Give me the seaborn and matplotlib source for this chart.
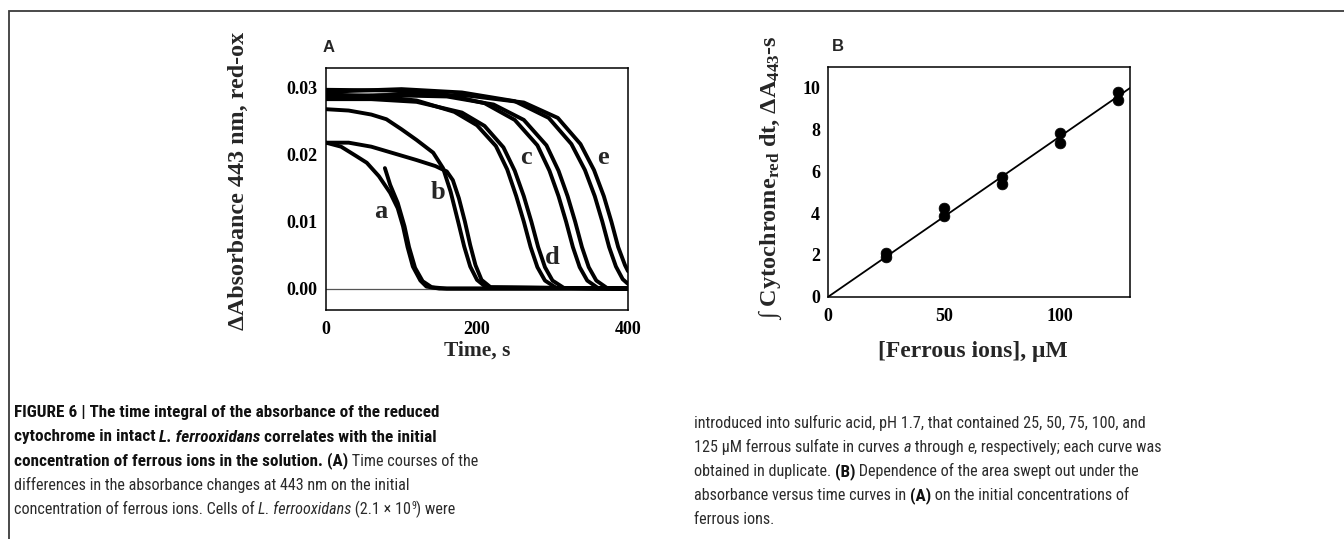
import matplotlib
matplotlib.use("Agg")
import pandas as pd
import seaborn as sns
import matplotlib.pyplot as plt
from matplotlib import font_manager
from matplotlib.patches import Rectangle

# ---------------- Panel A data: absorbance time courses ----
a1_t = [0, 20, 40, 54, 70, 85, 95, 102, 108, 115, 125, 133, 150, 400]
a1_v = [0.0218, 0.0212, 0.0198, 0.0188, 0.0168, 0.0143, 0.0120, 0.0093, 0.0062, 0.0033, 0.0012, 0.0003, 0.0, 0.0]
a2_t = [78, 85, 95, 104, 110, 118, 128, 140, 160, 400]
a2_v = [0.0180, 0.0155, 0.0128, 0.0093, 0.0062, 0.0031, 0.0011, 0.0002, 0.0, 0.0]
b1_t = [0, 30, 60, 90, 120, 145, 160, 168, 176, 184, 191, 198, 206, 218, 400]
b1_v = [0.0218, 0.0218, 0.0212, 0.0202, 0.0192, 0.0183, 0.0175, 0.0162, 0.0135, 0.0100, 0.0065, 0.0035, 0.0013, 0.0002, 0.0]
b2_t = [0, 30, 60, 80, 100, 120, 142, 155, 165, 175, 183, 191, 200, 212, 400]
b2_v = [0.0268, 0.0266, 0.0260, 0.0253, 0.0238, 0.0222, 0.0203, 0.0180, 0.0145, 0.0100, 0.0063, 0.0033, 0.0013, 0.0002, 0.0]
c1_t = [0, 60, 120, 170, 200, 225, 240, 252, 262, 271, 280, 290, 305, 400]
c1_v = [0.0290, 0.0288, 0.0281, 0.0264, 0.0244, 0.0213, 0.0178, 0.0138, 0.0100, 0.0062, 0.0032, 0.0012, 0.0001, 0.0]
c2_t = [0, 60, 120, 180, 210, 235, 250, 262, 272, 281, 290, 300, 315, 400]
c2_v = [0.0283, 0.0283, 0.0279, 0.0263, 0.0243, 0.0211, 0.0176, 0.0138, 0.0100, 0.0062, 0.0032, 0.0012, 0.0001, 0.0]
d1_t = [0, 80, 150, 210, 250, 280, 296, 308, 318, 327, 336, 346, 360, 400]
d1_v = [0.0297, 0.0296, 0.0292, 0.0277, 0.0252, 0.0214, 0.0176, 0.0138, 0.0100, 0.0062, 0.0032, 0.0012, 0.0001, 0.0]
d2_t = [0, 80, 160, 222, 262, 292, 308, 320, 330, 339, 348, 358, 372, 400]
d2_v = [0.0287, 0.0289, 0.0287, 0.0275, 0.0252, 0.0214, 0.0176, 0.0138, 0.0100, 0.0062, 0.0032, 0.0012, 0.0001, 0.0]
e1_t = [0, 100, 180, 250, 295, 325, 343, 356, 366, 375, 384, 393, 400]
e1_v = [0.0294, 0.0298, 0.0293, 0.0280, 0.0255, 0.0216, 0.0177, 0.0138, 0.0100, 0.0062, 0.0033, 0.0014, 0.0007]
e2_t = [0, 100, 190, 262, 307, 337, 355, 368, 378, 387, 396, 400]
e2_v = [0.0285, 0.0290, 0.0288, 0.0278, 0.0255, 0.0216, 0.0177, 0.0138, 0.0100, 0.0062, 0.0035, 0.0026]

curve_labels = ["a", "b", "c", "d", "e"]
label_t = [72, 148, 265, 300, 367]
label_v = [0.0115, 0.0143, 0.0196, 0.0046, 0.0196]

a_xticks = [0, 200, 400]
a_yticks = [0.00, 0.01, 0.02, 0.03]

# ---------------- Panel B data: integrated area vs ferrous ion concentration ----
conc = [25, 25, 50, 50, 75, 75, 100, 100, 125, 125]
area = [2.10, 1.92, 4.22, 3.85, 5.72, 5.40, 7.82, 7.35, 9.80, 9.40]
fit_x = [0, 130]
fit_y = [0.0, 9.98]
b_xticks = [0, 50, 100]
b_yticks = [0, 2, 4, 6, 8, 10]

# ---------------- caption text -----------------------------------------------
cap_left = [
    [("FIGURE 6 | The time integral of the absorbance of the reduced", "bold", "normal")],
    [("cytochrome in intact ", "bold", "normal"), ("L. ferrooxidans", "bold", "italic"),
     (" correlates with the initial", "bold", "normal")],
    [("concentration of ferrous ions in the solution. ", "bold", "normal"), ("(A)", "bold", "normal"),
     (" Time courses of the", "normal", "normal")],
    [("differences in the absorbance changes at 443 nm on the initial", "normal", "normal")],
    [("concentration of ferrous ions. Cells of ", "normal", "normal"), ("L. ferrooxidans", "normal", "italic"),
     (" (2.1 \u00d7 10", "normal", "normal"), ("9", "sup", "normal"), (") were", "normal", "normal")],
]
cap_right = [
    [("introduced into sulfuric acid, pH 1.7, that contained 25, 50, 75, 100, and", "normal", "normal")],
    [("125 \u03bcM ferrous sulfate in curves ", "normal", "normal"), ("a", "normal", "italic"),
     (" through ", "normal", "normal"), ("e", "normal", "italic"),
     (", respectively; each curve was", "normal", "normal")],
    [("obtained in duplicate. ", "normal", "normal"), ("(B)", "bold", "normal"),
     (" Dependence of the area swept out under the", "normal", "normal")],
    [("absorbance versus time curves in ", "normal", "normal"), ("(A)", "bold", "normal"),
     (" on the initial concentrations of", "normal", "normal")],
    [("ferrous ions.", "normal", "normal")],
]

# ---------------- style ------------------------------------------------------
sns.set_theme(style="white")
plt.rcParams.update({
    "font.family": ["Liberation Serif", "DejaVu Serif"],
    "mathtext.fontset": "custom",
    "mathtext.rm": "Liberation Serif:bold",
    "mathtext.bf": "Liberation Serif:bold",
    "mathtext.it": "Liberation Serif:italic:bold",
    "axes.edgecolor": "black",
    "axes.linewidth": 1.1,
})
SERIF = ["Liberation Serif", "DejaVu Serif"]
TICK_FS = 13

W, H = 1344, 539
fig = plt.figure(figsize=(W / 100, H / 100), dpi=100)
fig.patch.set_facecolor("white")

# outer frame (top and left edges visible; the rest lies outside the image)
fig.add_artist(Rectangle((9 / W, -0.2), 1.2, 1.2 - 11 / H, transform=fig.transFigure,
                         fill=False, ec="#3a3a3a", lw=1.3))

axA = fig.add_axes([326 / W, 1 - 310 / H, 302 / W, 242.3 / H])
axB = fig.add_axes([828.3 / W, 1 - 296.7 / H, 301.7 / W, 230 / H])

# ---------------- Panel A ----------------------------------------------------
traces = [("a1", a1_t, a1_v), ("a2", a2_t, a2_v), ("b1", b1_t, b1_v), ("b2", b2_t, b2_v),
          ("c1", c1_t, c1_v), ("c2", c2_t, c2_v), ("d1", d1_t, d1_v), ("d2", d2_t, d2_v),
          ("e1", e1_t, e1_v), ("e2", e2_t, e2_v)]
rows = []
for name, ts, vs in traces:
    for i, (t, v) in enumerate(zip(ts, vs)):
        rows.append({"trace": name, "order": i, "time": t, "absorbance": v})
dfA = pd.DataFrame(rows)
axA.axhline(0, color="#555555", lw=0.9, zorder=0)
sns.lineplot(data=dfA, x="time", y="absorbance", units="trace", estimator=None, sort=False,
             color="black", linewidth=2.8, ax=axA, legend=False)
axA.set_xlim(0, 400)
axA.set_ylim(-0.0032, 0.0330)
axA.set_xticks(a_xticks)
axA.set_yticks(a_yticks)
axA.set_xticklabels([str(x) for x in a_xticks])
axA.set_yticklabels([f"{y:.2f}" for y in a_yticks])
for lab, t, v in zip(curve_labels, label_t, label_v):
    axA.text(t, v, lab, fontsize=19, fontweight="bold", family=SERIF, ha="center", va="center")
axA.set_xlabel("Time, s", fontsize=15.5, fontweight="bold", family=SERIF)
axA.set_ylabel("\u0394Absorbance 443 nm, red-ox", fontsize=17.3, fontweight="bold", family=SERIF)
axA.xaxis.set_label_coords(0.5, (310 - 351) / 242.3)
axA.xaxis.label.set_va("center")
axA.yaxis.set_label_coords((238 - 326) / 302, (310 - 181) / 242.3)
axA.yaxis.label.set_va("center")
axA.text(-0.012, (310 - 47.5) / 242.3, "A", transform=axA.transAxes, fontsize=12,
         fontweight="bold", family=["Liberation Sans", "DejaVu Sans"], ha="left", va="center")

# ---------------- Panel B ----------------------------------------------------
dfB = pd.DataFrame({"conc": conc, "area": area})
dfFit = pd.DataFrame({"x": fit_x, "y": fit_y})
sns.lineplot(data=dfFit, x="x", y="y", color="black", linewidth=1.3, ax=axB, legend=False)
sns.scatterplot(data=dfB, x="conc", y="area", color="black", s=60, edgecolor="black",
                linewidth=0.5, ax=axB, legend=False, zorder=3)
axB.set_xlim(0, 130)
axB.set_ylim(0, 11)
axB.set_xticks(b_xticks)
axB.set_yticks(b_yticks)
axB.set_xticklabels([str(x) for x in b_xticks])
axB.set_yticklabels([str(y) for y in b_yticks])
axB.set_xlabel("[Ferrous ions], \u03bcM", fontsize=17, fontweight="bold", family=SERIF)
axB.set_ylabel("\u222b Cytochrome$_{\\mathrm{red}}$ dt, \u0394A$_{\\mathrm{443}}$-s",
               fontsize=17.5, fontweight="bold", family=SERIF)
axB.xaxis.set_label_coords((973 - 828.3) / 301.7, (296.7 - 352) / 230)
axB.xaxis.label.set_va("center")
axB.yaxis.set_label_coords((770 - 828.3) / 301.7, (296.7 - 178) / 230)
axB.yaxis.label.set_va("center")
axB.text(0.012, (296.7 - 46.5) / 230, "B", transform=axB.transAxes, fontsize=12,
         fontweight="bold", family=["Liberation Sans", "DejaVu Sans"], ha="left", va="center")

for ax in (axA, axB):
    for sp in ax.spines.values():
        sp.set_visible(True)
        sp.set_linewidth(1.1)
        sp.set_color("black")
    ax.tick_params(direction="in", length=4, width=1.1, pad=6, labelsize=TICK_FS, colors="black")
    for lbl in ax.get_xticklabels() + ax.get_yticklabels():
        lbl.set_fontweight("bold")
        lbl.set_family(SERIF)
    ax.grid(False)
axA.tick_params(axis="x", pad=8)
axB.tick_params(axis="x", pad=8)

# ---------------- caption ----------------------------------------------------
names = {f.name for f in font_manager.fontManager.ttflist}
cap_family = None
cap_stretch = "normal"
for cand in ["Liberation Sans Narrow", "Roboto Condensed", "Open Sans Condensed", "Noto Sans Condensed"]:
    if cand in names:
        cap_family = cand
        break
if cap_family is None:
    if any(f.name == "DejaVu Sans" and str(f.stretch) == "condensed" for f in font_manager.fontManager.ttflist):
        cap_family, cap_stretch = "DejaVu Sans", "condensed"
    else:
        cap_family = "Liberation Sans"
CAP = [cap_family, "DejaVu Sans"]
renderer = fig.canvas.get_renderer()


def text_width(s, size, weight="normal", style="normal"):
    kw = dict(fontsize=size, fontweight=weight, fontstyle=style, family=CAP, fontstretch=cap_stretch)
    t1 = fig.text(0, 0, s + "|", **kw)
    w1 = t1.get_window_extent(renderer).width
    t1.remove()
    t2 = fig.text(0, 0, "|", **kw)
    w2 = t2.get_window_extent(renderer).width
    t2.remove()
    return w1 - w2


reg_size = 10 * 394 / text_width(cap_left[3][0][0], 10)
bold_size = 10 * 423 / text_width(cap_left[0][0][0], 10, "bold")


def draw_line(x_px, y_px, runs):
    x = x_px
    for txt, weight, style in runs:
        size = bold_size if weight == "bold" else reg_size
        color = "#111111" if weight == "bold" else "#2b2b2b"
        y = y_px
        if weight == "sup":
            size = reg_size * 0.62
            y = y_px - reg_size * 0.45
            weight = "normal"
        fig.text(x / W, 1 - y / H, txt, fontsize=size, fontweight=weight, fontstyle=style,
                 family=CAP, fontstretch=cap_stretch, color=color, ha="left", va="baseline")
        x += text_width(txt, size, weight, style)


for i, runs in enumerate(cap_left):
    draw_line(13.5, 417.3 + 24.2 * i, runs)
for i, runs in enumerate(cap_right):
    draw_line(694, 428.3 + 24.0 * i, runs)

fig.savefig("out.png", dpi=100, facecolor="white")
